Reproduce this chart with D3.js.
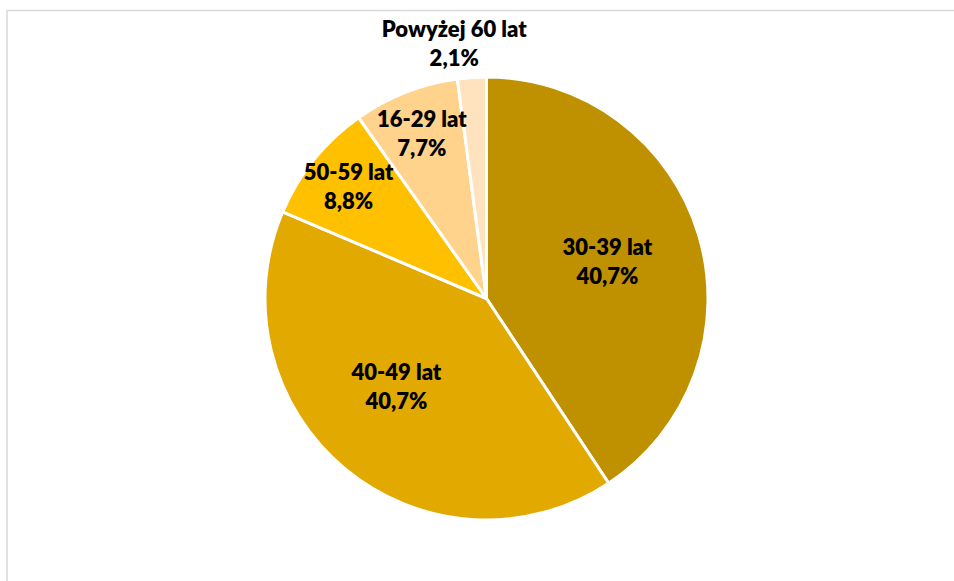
<!DOCTYPE html>
<html><head><meta charset="utf-8">
<script src="https://cdn.jsdelivr.net/npm/d3@7"></script>
<style>body{margin:0;background:#fff;}svg{display:block;}</style>
</head><body>
<svg id="c" width="954" height="581"></svg>
<script>
const categories = ["30-39 lat", "40-49 lat", "50-59 lat", "16-29 lat", "Powyżej 60 lat"];
const values = [40.7, 40.7, 8.8, 7.7, 2.1];
const colors = ["#BF9000", "#E2AA00", "#FFC000", "#FFD38C", "#FFE3BF"];

const svg = d3.select("#c");
const W = 954, H = 581;
svg.append("rect").attr("x", 7).attr("y", 10.5).attr("width", W + 20).attr("height", H + 20)
  .attr("fill", "none").attr("stroke", "#D9D9D9").attr("stroke-width", 1.5);

const cx = 486.5, cy = 298.5, R = 221.5;
const data = categories.map((c, i) => ({ cat: c, v: values[i], col: colors[i] }));
const pie = d3.pie().value(d => d.v).sort(null);
const arcs = pie(data);
const arc = d3.arc().innerRadius(0).outerRadius(R);
const g = svg.append("g").attr("transform", `translate(${cx},${cy})`);
g.selectAll("path").data(arcs).join("path")
  .attr("d", arc).attr("fill", d => d.data.col)
  .attr("stroke", "#fff").attr("stroke-width", 3).attr("stroke-linejoin", "round");

function labelPos(d) {
  const share = d.data.v / 100;
  let k = share > 0.2 ? 0.57 : (share > 0.05 ? 0.8 : 1.16);
  let a = (d.startAngle + d.endAngle) / 2;
  if (share < 0.05) a -= 0.06;
  else if (share > 0.2 && a > Math.PI) a += 0.1;
  return [Math.sin(a) * R * k, -Math.cos(a) * R * k];
}
const lab = g.selectAll("text").data(arcs).join("text")
  .attr("text-anchor", "middle")
  .attr("font-family", "Lato, 'Open Sans', sans-serif")
  .attr("font-weight", 800).attr("font-size", 22).attr("fill", "#000")
  .attr("transform", d => `translate(${labelPos(d)})`);
lab.append("tspan").attr("x", 0).attr("y", -7).text(d => d.data.cat);
lab.append("tspan").attr("x", 0).attr("y", 22).text(d => d3.format(".1f")(d.data.v).replace(".", ",") + "%");
</script>
</body></html>
